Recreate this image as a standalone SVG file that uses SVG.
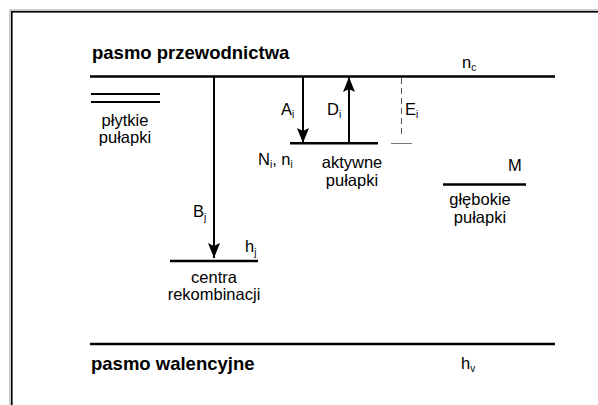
<svg xmlns="http://www.w3.org/2000/svg" width="598" height="405" viewBox="0 0 598 405">
<defs>
<marker id="ah" markerUnits="userSpaceOnUse" markerWidth="16" markerHeight="12" refX="15" refY="6" orient="auto">
<path d="M0,0 L15,6 L0,12 L3,6 z" fill="#000"/>
</marker>
<style>
text{font-family:"Liberation Sans",Arial,Helvetica,sans-serif;fill:#000}
.t{font-size:18.5px;font-weight:bold}
.l{font-size:16.5px}
.s{font-size:10px}
.lvl{stroke:#000;stroke-width:2.5;fill:none}
.arr{stroke:#000;stroke-width:2;fill:none;marker-end:url(#ah)}
</style>
</defs>
<rect x="0" y="0" width="598" height="405" fill="#fff"/>
<g id="frame">
<rect x="10" y="10" width="620" height="420" fill="none" stroke="#999" stroke-width="1"/>
<rect x="11.8" y="11.8" width="620" height="420" fill="none" stroke="#000" stroke-width="1.6"/>
</g>
<g id="pasmo-przewodnictwa">
<line class="lvl" x1="90" y1="76.5" x2="555" y2="76.5"/>
<text class="t" x="92" y="59">pasmo przewodnictwa</text>
<text class="l" x="462" y="68">n<tspan class="s" dy="3">c</tspan></text>
</g>
<g id="plytkie-pulapki">
<line stroke="#000" stroke-width="2" x1="91" y1="94" x2="160" y2="94"/>
<line stroke="#000" stroke-width="2" x1="91" y1="102" x2="160" y2="102"/>
<text class="l" x="125" y="126" text-anchor="middle">płytkie</text>
<text class="l" x="125" y="143" text-anchor="middle">pułapki</text>
</g>
<g id="aktywne-pulapki">
<line class="lvl" x1="290" y1="143.3" x2="378" y2="143.3"/>
<text class="l" x="258" y="165">N<tspan class="s" dy="3">i</tspan><tspan dy="-3">, n</tspan><tspan class="s" dy="3">i</tspan></text>
<text class="l" x="352" y="168" text-anchor="middle">aktywne</text>
<text class="l" x="352" y="186" text-anchor="middle">pułapki</text>
</g>
<g id="glebokie-pulapki">
<line class="lvl" x1="443" y1="184.5" x2="526" y2="184.5"/>
<text class="l" x="508" y="171">M</text>
<text class="l" x="480" y="205" text-anchor="middle">głębokie</text>
<text class="l" x="480" y="223" text-anchor="middle">pułapki</text>
</g>
<g id="centra-rekombinacji">
<line class="lvl" x1="170" y1="261" x2="258" y2="261"/>
<text class="l" x="245" y="252">h<tspan class="s" dy="4">j</tspan></text>
<text class="l" x="214" y="283" text-anchor="middle">centra</text>
<text class="l" x="214" y="300" text-anchor="middle">rekombinacji</text>
</g>
<g id="pasmo-walencyjne">
<line class="lvl" x1="90" y1="344" x2="555" y2="344"/>
<text class="t" x="91" y="370">pasmo walencyjne</text>
<text class="l" x="461" y="369">h<tspan class="s" dy="3">v</tspan></text>
</g>
<g id="connectors">
<line class="arr" x1="214" y1="77" x2="214" y2="258"/>
<text class="l" x="193" y="217">B<tspan class="s" dy="4">j</tspan></text>
<line class="arr" x1="303" y1="77" x2="303" y2="143"/>
<text class="l" x="281" y="115">A<tspan class="s" dy="3">i</tspan></text>
<line class="arr" x1="349" y1="143" x2="349" y2="77"/>
<text class="l" x="327" y="115">D<tspan class="s" dy="3">i</tspan></text>
<line stroke="#555" stroke-width="1" stroke-dasharray="6,4" x1="401.5" y1="78" x2="401.5" y2="137"/>
<line stroke="#777" stroke-width="1" x1="391" y1="143.5" x2="412" y2="143.5"/>
<text class="l" x="405" y="115">E<tspan class="s" dy="3">i</tspan></text>
</g>
</svg>
